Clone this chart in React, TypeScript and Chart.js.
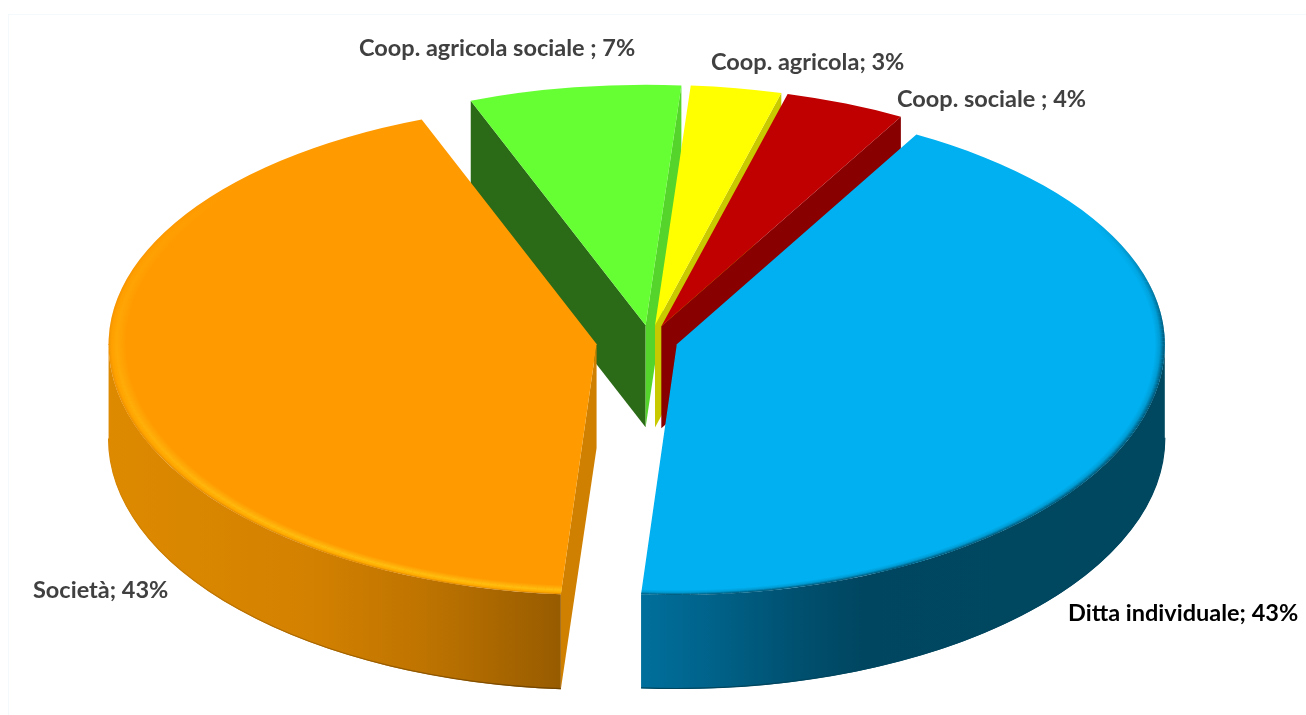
import React, { useEffect, useRef } from "react";
import { Chart, registerables } from "chart.js";

Chart.register(...registerables);

// Share of enterprises by legal form, clockwise from the blue slice.
const categories = [
  "Ditta individuale",
  "Società",
  "Coop. agricola sociale ",
  "Coop. agricola",
  "Coop. sociale ",
];
const shares = [43, 43, 7, 3, 4];

const topColors = ["#00b0f0", "#ff9a00", "#66ff33", "#ffff00", "#c00000"];
const explodeDistances = [28, 54, 30, 30, 30];
const wallDepths = [94, 95, 102, 102, 102];
const labelColors = ["#000000", "#404040", "#404040", "#404040", "#404040"];
const labelAnchors = [
  [1068, 621],
  [33, 598],
  [359, 56],
  [711, 70],
  [897, 107],
];

const WIDTH = 1306;
const HEIGHT = 715;
const RADIUS = 488;
// The far half of the disc reads flatter than the near half, as in a perspective view.
const TILT_BACK = 0.493;
const TILT_FRONT = 0.514;
const ORANGE_APEX_DEPTH = 104;

type Sector = { ax: number; ay: number; start: number; end: number; r: number; cx: number; cy: number };

function sectorOf(arc: any, index: number): Sector {
  const { x, y, startAngle, endAngle, outerRadius } = arc.getProps([
    "x",
    "y",
    "startAngle",
    "endAngle",
    "outerRadius",
  ]);
  const shift = explodeDistances[index];
  const mid = (startAngle + endAngle) / 2;
  const tilt = Math.sin(mid) > 0 ? TILT_FRONT : TILT_BACK;
  return {
    ax: x + Math.cos(mid) * shift,
    ay: y + Math.sin(mid) * shift * tilt,
    start: startAngle,
    end: endAngle,
    r: outerRadius,
    cx: x,
    cy: y,
  };
}

function rimPoint(s: Sector, angle: number) {
  const sin = Math.sin(angle);
  return [s.ax + s.r * Math.cos(angle), s.ay + s.r * sin * (sin > 0 ? TILT_FRONT : TILT_BACK)];
}

function cutFace(
  ctx: CanvasRenderingContext2D,
  s: Sector,
  angle: number,
  depth: number,
  color: string,
  apexDepth: number = depth
) {
  const [px, py] = rimPoint(s, angle);
  ctx.beginPath();
  ctx.moveTo(s.ax, s.ay);
  ctx.lineTo(px, py);
  ctx.lineTo(px, py + depth);
  ctx.lineTo(s.ax, s.ay + apexDepth);
  ctx.closePath();
  ctx.fillStyle = color;
  ctx.fill();
}

function rimWall(
  ctx: CanvasRenderingContext2D,
  s: Sector,
  a0: number,
  a1: number,
  depth: number,
  fill: CanvasGradient,
  edge: CanvasGradient | string
) {
  const ry = s.r * TILT_FRONT;
  ctx.beginPath();
  ctx.ellipse(s.ax, s.ay, s.r, ry, 0, a0, a1);
  ctx.ellipse(s.ax, s.ay + depth, s.r, ry, 0, a1, a0, true);
  ctx.closePath();
  ctx.fillStyle = fill;
  ctx.fill();
  ctx.beginPath();
  ctx.ellipse(s.ax, s.ay + depth - 0.5, s.r, ry, 0, a0, a1);
  ctx.strokeStyle = edge;
  ctx.lineWidth = 1.2;
  ctx.stroke();
}

function horizontal(ctx: CanvasRenderingContext2D, x0: number, x1: number, stops: [number, string][]) {
  const g = ctx.createLinearGradient(x0, 0, x1, 0);
  stops.forEach(([o, c]) => g.addColorStop(o, c));
  return g;
}

// Soft band along the rim; its strength follows the angle through `strength`.
function bevel(
  ctx: CanvasRenderingContext2D,
  s: Sector,
  width: number,
  stops: [number, string][],
  strength: (angle: number) => number
) {
  const g = ctx.createRadialGradient(s.cx, s.cy, s.r - width, s.cx, s.cy, s.r);
  stops.forEach(([o, c]) => g.addColorStop(o, c));
  const steps = 160;
  const da = (s.end - s.start) / steps;
  ctx.save();
  ctx.fillStyle = g;
  for (let i = 0; i < steps; i++) {
    const a = s.start + i * da;
    const alpha = strength(a + da / 2);
    if (alpha <= 0) continue;
    ctx.globalAlpha = alpha;
    ctx.beginPath();
    ctx.arc(s.cx, s.cy, s.r, a, a + da);
    ctx.arc(s.cx, s.cy, s.r - width, a + da, a, true);
    ctx.closePath();
    ctx.fill();
  }
  ctx.restore();
}

function paintTop(ctx: CanvasRenderingContext2D, arc: any, s: Sector, finish?: () => void) {
  const halves: [number, number, number][] = [
    [TILT_BACK, -HEIGHT, s.ay + 1],
    [TILT_FRONT, s.ay, HEIGHT * 2],
  ];
  halves.forEach(([tilt, y0, y1]) => {
    ctx.save();
    ctx.beginPath();
    ctx.rect(0, y0, WIDTH, y1 - y0);
    ctx.clip();
    ctx.translate(s.ax, s.ay);
    ctx.scale(1, tilt);
    ctx.translate(-s.cx, -s.cy);
    arc.draw(ctx);
    if (finish) finish();
    ctx.restore();
  });
}

const ramp = (v: number, from: number, to: number) => Math.max(0, Math.min(1, (v - from) / (to - from)));

const pieSolid = {
  id: "pieSolid",
  beforeDatasetsDraw(chart: any) {
    const ctx: CanvasRenderingContext2D = chart.ctx;
    const arcs = chart.getDatasetMeta(0).data;
    const sectors: Sector[] = arcs.map(sectorOf);
    const [blue, orange, green, yellow, red] = sectors;

    cutFace(ctx, green, green.start, wallDepths[2], "#2b6a17");
    cutFace(ctx, green, green.end, wallDepths[2], "#55d52b");
    cutFace(ctx, yellow, yellow.end, wallDepths[3], "#c9c900");
    cutFace(ctx, red, red.end, wallDepths[4], "#880000");
    cutFace(ctx, orange, orange.start, wallDepths[1], "#d08000", ORANGE_APEX_DEPTH);

    rimWall(
      ctx,
      blue,
      0,
      blue.end,
      wallDepths[0],
      horizontal(ctx, 640, 1170, [
        [0, "#006f9c"],
        [0.12, "#00648c"],
        [0.3, "#00506f"],
        [0.42, "#004661"],
        [1, "#00485f"],
      ]),
      "#00465f"
    );
    rimWall(
      ctx,
      orange,
      orange.start,
      Math.PI,
      wallDepths[1],
      horizontal(ctx, 106, 558, [
        [0, "#de8a00"],
        [0.45, "#d38100"],
        [0.7, "#bf7400"],
        [1, "#985c00"],
      ]),
      horizontal(ctx, 106, 558, [
        [0, "#d98700"],
        [0.3, "#b87000"],
        [1, "#6f4300"],
      ])
    );

    const rad = (d: number) => (d * Math.PI) / 180;
    const finishes: ((() => void) | undefined)[] = [
      () =>
        bevel(
          ctx,
          blue,
          10,
          [
            [0, "rgba(0,72,98,0)"],
            [0.5, "rgba(0,72,98,0.2)"],
            [1, "rgba(0,72,98,0.9)"],
          ],
          (a) => ramp(a, rad(-32), rad(-2))
        ),
      () =>
        bevel(
          ctx,
          orange,
          18,
          [
            [0, "rgba(255,190,16,0)"],
            [0.55, "rgba(255,192,16,0.95)"],
            [0.82, "rgba(255,178,0,0.7)"],
            [1, "rgba(205,125,0,0.7)"],
          ],
          (a) => 1 - 0.7 * ramp(a, rad(125), rad(190)) - 0.3 * ramp(a, rad(190), rad(222))
        ),
    ];
    arcs.forEach((arc: any, i: number) => paintTop(ctx, arc, sectors[i], finishes[i]));
    return false;
  },
};

const sliceLabels = {
  id: "sliceLabels",
  afterDraw(chart: any) {
    const ctx: CanvasRenderingContext2D = chart.ctx;
    ctx.save();
    ctx.font = 'bold 23.5px Lato, "Open Sans", sans-serif';
    ctx.textBaseline = "alphabetic";
    ctx.textAlign = "left";
    categories.forEach((name, i) => {
      ctx.fillStyle = labelColors[i];
      ctx.fillText(`${name}; ${shares[i]}%`, labelAnchors[i][0], labelAnchors[i][1]);
    });
    ctx.restore();
  },
};

const pageFrame = {
  id: "pageFrame",
  beforeDraw(chart: any) {
    const ctx: CanvasRenderingContext2D = chart.ctx;
    ctx.save();
    ctx.fillStyle = "#ffffff";
    ctx.fillRect(0, 0, WIDTH, HEIGHT);
    ctx.strokeStyle = "#f4f9fc";
    ctx.lineWidth = 1;
    ctx.strokeRect(8.5, 14.5, WIDTH, HEIGHT);
    ctx.restore();
  },
};

export default function App() {
  const canvasRef = useRef<HTMLCanvasElement>(null);

  useEffect(() => {
    const chart = new Chart(canvasRef.current as HTMLCanvasElement, {
      type: "pie",
      data: {
        labels: categories,
        datasets: [
          {
            data: shares,
            backgroundColor: topColors,
            borderWidth: 0,
            clip: false,
          } as any,
        ],
      },
      options: {
        responsive: false,
        animation: false,
        rotation: 29.4,
        radius: RADIUS,
        layout: { padding: { right: 6, bottom: 35 } },
        plugins: { legend: { display: false }, tooltip: { enabled: false } },
      } as any,
      plugins: [pageFrame, pieSolid, sliceLabels],
    });
    return () => chart.destroy();
  }, []);

  return (
    <canvas
      ref={canvasRef}
      width={WIDTH}
      height={HEIGHT}
      style={{ position: "fixed", left: 0, top: 0, display: "block" }}
    />
  );
}
